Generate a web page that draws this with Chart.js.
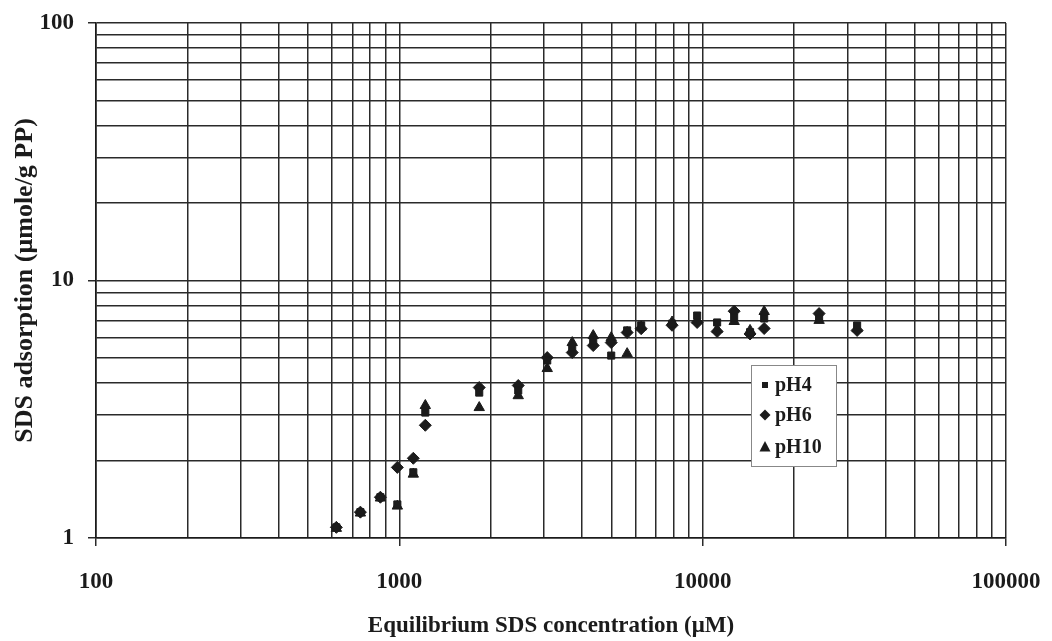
<!DOCTYPE html>
<html>
<head>
<meta charset="utf-8">
<script src="https://cdn.jsdelivr.net/npm/chart.js@4/dist/chart.umd.min.js"></script>
<style>
  html, body { margin: 0; padding: 0; background: #fff; }
  #wrap { width: 1052px; height: 641px; }
</style>
</head>
<body>
<div id="wrap"><canvas id="sds" width="1052" height="641"></canvas></div>
<script>
// equilibrium SDS concentration (uM), shared by all three runs
const conc = [620, 744, 866, 985, 1112, 1218, 1834, 2466, 3073, 3715, 4357, 4995, 5637, 6270, 7928, 9590, 11160, 12700, 14330, 15950, 24200, 32300];
// SDS adsorption (umole/g PP)
const ph4  = [1.10, 1.26, 1.44, 1.35, 1.80, 3.07, 3.67, 3.74, 4.89, 5.49, 5.85, 5.11, 6.40, 6.70, 6.80, 7.31, 6.87, 7.18, 6.30, 7.12, 7.12, 6.69];
const ph6  = [1.10, 1.26, 1.44, 1.88, 2.04, 2.74, 3.84, 3.91, 5.02, 5.25, 5.59, 5.74, 6.28, 6.50, 6.70, 6.87, 6.34, 7.60, 6.20, 6.51, 7.44, 6.40];
const ph10 = [1.09, 1.25, 1.43, 1.33, 1.77, 3.27, 3.21, 3.57, 4.55, 5.74, 6.11, 6.00, 5.20, 6.60, 6.90, 7.00, 6.45, 6.93, 6.40, 7.58, 7.00, 6.50];

// gridline positions (log decades with 2..9 in between)
const xTicks = [100,200,300,400,500,600,700,800,900,1000,2000,3000,4000,5000,6000,7000,8000,9000,10000,20000,30000,40000,50000,60000,70000,80000,90000,100000];
const yTicks = [1,2,3,4,5,6,7,8,9,10,20,30,40,50,60,70,80,90,100];

const ink = '#1b1b1b';
const serif = "'Liberation Serif', 'DejaVu Serif', serif";

function isDecade(v) {
  const l = Math.log10(v);
  return Math.abs(l - Math.round(l)) < 1e-9;
}

function pts(ys) {
  return conc.map((x, i) => ({x: x, y: ys[i]}));
}

// legend box drawn inside the plot area
const boxLegend = {
  id: 'boxLegend',
  afterDraw(chart) {
    const ctx = chart.ctx;
    ctx.save();
    ctx.fillStyle = '#fff';
    ctx.fillRect(751, 365, 85, 101);
    ctx.strokeStyle = '#888';
    ctx.lineWidth = 1;
    ctx.strokeRect(751.5, 365.5, 85, 101);
    ctx.fillStyle = ink;
    ctx.font = "bold 20px " + serif;
    ctx.textBaseline = 'middle';
    const rows = [['pH4', 385], ['pH6', 415], ['pH10', 447]];
    rows.forEach(([txt, y], i) => {
      const x = 765;
      ctx.beginPath();
      if (i === 0) {
        ctx.rect(x - 3, y - 3, 6, 6);
      } else if (i === 1) {
        ctx.moveTo(x, y - 5.5); ctx.lineTo(x + 5.5, y); ctx.lineTo(x, y + 5.5); ctx.lineTo(x - 5.5, y);
        ctx.closePath();
      } else {
        ctx.moveTo(x, y - 6); ctx.lineTo(x + 5.5, y + 4.5); ctx.lineTo(x - 5.5, y + 4.5);
        ctx.closePath();
      }
      ctx.fill();
      ctx.fillText(txt, 775, y + 1);
    });
    ctx.restore();
  }
};

new Chart(document.getElementById('sds'), {
  type: 'scatter',
  data: {
    datasets: [
      { label: 'pH4', data: pts(ph4), pointStyle: 'rect', radius: 5, backgroundColor: ink, borderColor: ink, borderWidth: 1 },
      { label: 'pH6', data: pts(ph6), pointStyle: 'rectRot', radius: 6, backgroundColor: ink, borderColor: ink, borderWidth: 1 },
      { label: 'pH10', data: pts(ph10), pointStyle: 'triangle', radius: 6, backgroundColor: ink, borderColor: ink, borderWidth: 1 }
    ]
  },
  options: {
    responsive: false,
    animation: false,
    layout: { padding: { top: 23, right: 46, left: 0, bottom: 0 } },
    plugins: {
      legend: { display: false },
      tooltip: { enabled: false }
    },
    scales: {
      x: {
        type: 'logarithmic',
        min: 100,
        max: 100000,
        afterBuildTicks: s => { s.ticks = xTicks.map(v => ({value: v, major: isDecade(v)})); },
        afterFit: s => { s.height = 103; s.paddingLeft = 0; s.paddingRight = 0; },
        border: { color: ink, width: 1.6 },
        grid: {
          color: '#2a2a2a',
          lineWidth: 1.5,
          tickLength: 8,
          tickColor: c => (c.tick && isDecade(c.tick.value)) ? '#2a2a2a' : 'rgba(0,0,0,0)'
        },
        ticks: {
          autoSkip: false,
          maxRotation: 0,
          padding: 22,
          color: ink,
          font: { family: serif, size: 23, weight: 'bold' },
          callback: v => isDecade(v) ? String(v) : ''
        },
        title: {
          display: true,
          text: 'Equilibrium SDS concentration (μM)',
          color: ink,
          font: { family: serif, size: 23, weight: 'bold' },
          padding: { top: 0, bottom: 1 }
        }
      },
      y: {
        type: 'logarithmic',
        min: 1,
        max: 100,
        afterBuildTicks: s => { s.ticks = yTicks.map(v => ({value: v, major: isDecade(v)})); },
        afterFit: s => { s.width = 96; s.paddingTop = 0; s.paddingBottom = 0; },
        border: { color: ink, width: 1.6 },
        grid: {
          color: '#2a2a2a',
          lineWidth: 1.5,
          tickLength: 8,
          tickColor: c => (c.tick && isDecade(c.tick.value)) ? '#2a2a2a' : 'rgba(0,0,0,0)'
        },
        ticks: {
          autoSkip: false,
          padding: 14,
          color: ink,
          font: { family: serif, size: 23, weight: 'bold' },
          callback: v => isDecade(v) ? String(v) : ''
        },
        title: {
          display: true,
          text: 'SDS adsorption (μmole/g PP)',
          color: ink,
          font: { family: serif, size: 26, weight: 'bold' },
          padding: { top: 10, bottom: 0 }
        }
      }
    }
  },
  plugins: [boxLegend]
});
</script>
</body>
</html>
